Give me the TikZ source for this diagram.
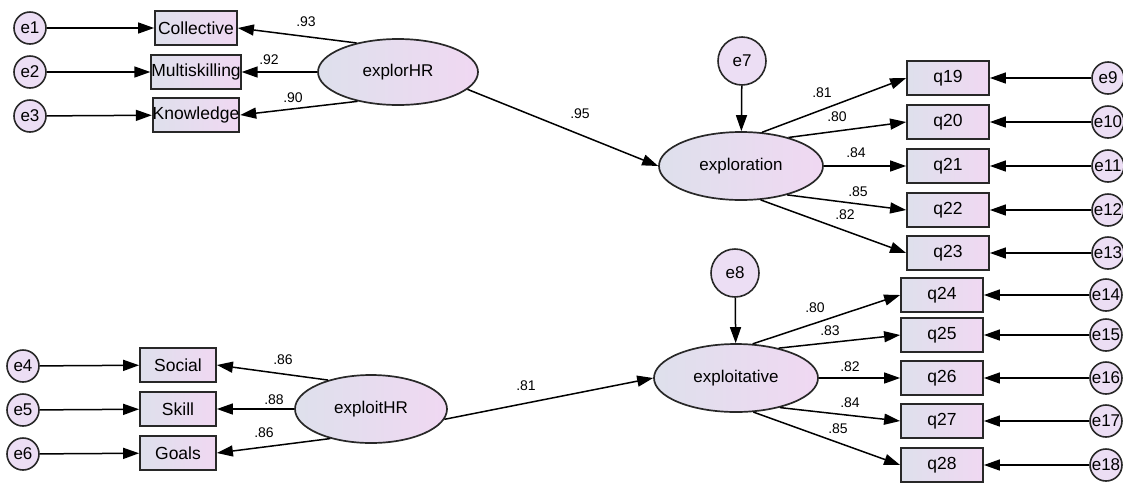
\documentclass[tikz,border=0pt]{standalone}
\usepackage{fontspec}
\setmainfont{Liberation Sans}
\usetikzlibrary{arrows.meta,shapes.geometric}
\definecolor{lc}{RGB}{222,224,236}
\definecolor{rc}{RGB}{240,216,242}
\definecolor{cc}{RGB}{236,222,244}
\definecolor{bd}{RGB}{40,40,40}
\tikzset{
  obs/.style={draw=bd,line width=1.8pt,left color=lc,right color=rc,inner sep=0pt,font=\fontsize{17.5}{19}\selectfont},
  lat/.style={ellipse,draw=bd,line width=1.7pt,left color=lc,right color=rc,inner sep=0pt,font=\fontsize{17}{19}\selectfont},
  err/.style={circle,draw=bd,line width=1.6pt,fill=cc,inner sep=0pt,minimum size=#1,font=\fontsize{17}{19}\selectfont},
  err/.default=32pt,
  arr/.style={line width=1.5pt,-{Triangle[length=16pt,width=11pt]}},
  val/.style={font=\fontsize{14}{16}\selectfont,inner sep=0pt}
}
\begin{document}
\begin{tikzpicture}[x=1pt,y=-1pt]
\useasboundingbox (0,0) rectangle (1123,483);
\clip (0,0) rectangle (1123,483);
% top-left
\node[obs,minimum width=82pt,minimum height=34pt] (col) at (196,28) {Collective};
\node[obs,minimum width=82pt,minimum height=34pt] (mul) at (196,72) {Multiskilling};
\node[obs,minimum width=82pt,minimum height=34pt] (kno) at (196,115) {Knowledge};
\node[err] (e1) at (30,28) {e1};
\node[err] (e2) at (30,72) {e2};
\node[err] (e3) at (30,116) {e3};
\node[lat,minimum width=160pt,minimum height=66pt] (xr) at (398,72) {explorHR};
% exploration
\node[lat,minimum width=164pt,minimum height=68pt] (xp) at (741,166) {exploration};
\node[err=48pt] (e7) at (742,61) {e7};
\foreach \n/\y in {19/78,20/122,21/166,22/210,23/253}{
  \node[obs,minimum width=82pt,minimum height=34pt] (q\n) at (948,\y) {q\n};
}
\node[err] (e9) at (1108,78) {e9};
\node[err] (e10) at (1108,122) {e10};
\node[err] (e11) at (1108,166) {e11};
\node[err] (e12) at (1108,210) {e12};
\node[err] (e13) at (1108,253) {e13};
% bottom-left
\node[obs,minimum width=76pt,minimum height=34pt] (soc) at (178,365) {Social};
\node[obs,minimum width=76pt,minimum height=34pt] (ski) at (178,409) {Skill};
\node[obs,minimum width=76pt,minimum height=34pt] (goa) at (178,453) {Goals};
\node[err] (e4) at (23,366) {e4};
\node[err] (e5) at (23,410) {e5};
\node[err] (e6) at (23,454) {e6};
\node[lat,minimum width=152pt,minimum height=68pt] (ir) at (371,409) {exploitHR};
% exploitative
\node[lat,minimum width=164pt,minimum height=68pt] (it) at (736,378) {exploitative};
\node[err=48pt] (e8) at (735,273) {e8};
\foreach \n/\y in {24/295,25/335,26/378,27/421,28/465}{
  \node[obs,minimum width=82pt,minimum height=34pt] (q\n) at (942,\y) {q\n};
}
\node[err] (e14) at (1106,295) {e14};
\node[err] (e15) at (1106,335) {e15};
\node[err] (e16) at (1106,378) {e16};
\node[err] (e17) at (1106,421) {e17};
\node[err] (e18) at (1106,465) {e18};
% arrows
\draw[arr] (e1) -- (col);
\draw[arr] (e2) -- (mul);
\draw[arr] (e3) -- (kno);
\draw[arr] (xr.145) -- (col.east);
\draw[arr] (xr.180) -- (mul.east);
\draw[arr] (xr.216) -- (kno.east);
\draw[arr] (xr.-14) -- (xp.180);
\draw[arr] (e7) -- (xp);
\draw[arr] (xp.58) -- (q19.west);
\draw[arr] (xp.31) -- (q20.west);
\draw[arr] (xp.0) -- (q21.west);
\draw[arr] (xp.-32) -- (q22.west);
\draw[arr] (xp.-60) -- (q23.west);
\foreach \e/\n in {9/19,10/20,11/21,12/22,13/23}{\draw[arr] (e\e) -- (q\n);}
\draw[arr] (e4) -- (soc);
\draw[arr] (e5) -- (ski);
\draw[arr] (e6) -- (goa);
\draw[arr] (ir.146) -- (soc.east);
\draw[arr] (ir.180) -- (ski.east);
\draw[arr] (ir.216) -- (goa.east);
\draw[arr] (ir.-8) -- (it.180);
\draw[arr] (e8) -- (it);
\draw[arr] (it.64) -- (q24.west);
\draw[arr] (it.35) -- (q25.west);
\draw[arr] (it.0) -- (q26.west);
\draw[arr] (it.-34) -- (q27.west);
\draw[arr] (it.-63) -- (q28.west);
\foreach \e/\n in {14/24,15/25,16/26,17/27,18/28}{\draw[arr] (e\e) -- (q\n);}
% values
\node[val] (v1) at (306,22) {.93};
\node[val] (v2) at (269,60) {.92};
\node[val] (v3) at (293,98) {.90};
\node[val] (v4) at (580,114) {.95};
\node[val] (v5) at (822,93) {.81};
\node[val] (v6) at (837,117) {.80};
\node[val] (v7) at (856,153) {.84};
\node[val] (v8) at (858,192) {.85};
\node[val] (v9) at (845,215) {.82};
\node[val] (v10) at (283,360) {.86};
\node[val] (v11) at (274,400) {.88};
\node[val] (v12) at (264,433) {.86};
\node[val] (v13) at (526,386) {.81};
\node[val] (v14) at (815,308) {.80};
\node[val] (v15) at (830,331) {.83};
\node[val] (v16) at (850,367) {.82};
\node[val] (v17) at (850,403) {.84};
\node[val] (v18) at (838,429) {.85};
\end{tikzpicture}
\end{document}
